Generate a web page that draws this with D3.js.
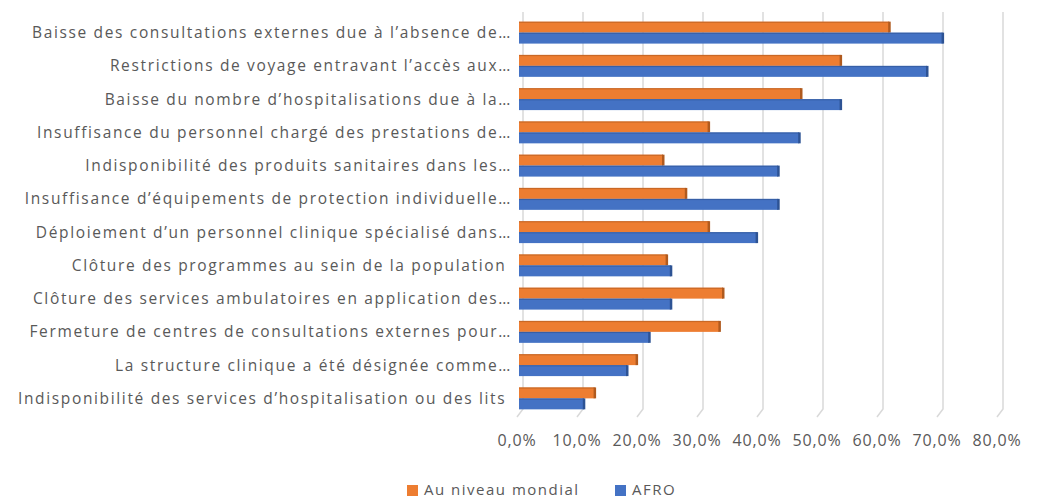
<!DOCTYPE html>
<html>
<head>
<meta charset="utf-8">
<script src="https://cdn.jsdelivr.net/npm/d3@7"></script>
<style>
  body { margin: 0; background: #fff; }
  text { font-family: "Open Sans", sans-serif; fill: #595959; }
</style>
</head>
<body>
<div class="chart"></div>
<script>
var width = 1045;
var height = 499;

// categories, top to bottom
var categories = [
	"Baisse des consultations externes due à l’absence de…",
	"Restrictions de voyage entravant l’accès aux…",
	"Baisse du nombre d’hospitalisations due à la…",
	"Insuffisance du personnel chargé des prestations de…",
	"Indisponibilité des produits sanitaires dans les…",
	"Insuffisance d’équipements de protection individuelle…",
	"Déploiement d’un personnel clinique spécialisé dans…",
	"Clôture des programmes au sein de la population\u00a0",
	"Clôture des services ambulatoires en application des…",
	"Fermeture de centres de consultations externes pour…",
	"La structure clinique a été désignée comme…",
	"Indisponibilité des services d’hospitalisation ou des lits\u00a0"
];

// values in %
var mondial = [61.7, 53.6, 47, 31.6, 24, 27.8, 31.6, 24.6, 34, 33.4, 19.6, 12.6];
var afro = [70.6, 68, 53.6, 46.7, 43.2, 43.2, 39.6, 25.3, 25.3, 21.7, 18, 10.8];

var seriesNames = ["Au niveau mondial", "AFRO"];
var ticks = [0, 10, 20, 30, 40, 50, 60, 70, 80];

var colors = ["#ED7D31", "#4472C4"];
var darker = ["#B05A1E", "#2D5394"];

var rows = categories.map(function(c, i) {
	return { cat: c, values: [mondial[i], afro[i]] };
});

var svg = d3.select(".chart")
	.append("svg")
	.attr("width", width)
	.attr("height", height);

var x = d3.scaleLinear().domain([0, 80]).range([517, 997]);
var y = d3.scaleBand().domain(categories).range([16, 415])
	.paddingInner(0.34).paddingOuter(0.17);
var ySub = d3.scaleBand().domain([0, 1]).range([0, y.bandwidth()]);

var depth = 6;

// gridlines with a little 3D floor slant
svg.append("g").selectAll("path")
	.data(ticks)
	.enter()
	.append("path")
	.attr("d", function(d) {
		return "M" + (x(d) + depth) + ",12V409L" + x(d) + ",417";
	})
	.attr("fill", "none")
	.attr("stroke", "#d9d9d9")
	.attr("stroke-width", 1.5);

// tick labels
svg.append("g").selectAll("text")
	.data(ticks)
	.enter()
	.append("text")
	.attr("x", function(d) { return x(d); })
	.attr("y", 446)
	.attr("text-anchor", "middle")
	.style("font-size", "16px")
	.style("letter-spacing", "0.8px")
	.text(function(d) { return d.toFixed(1).replace(".", ",") + "%"; });

// category labels
svg.append("g").selectAll("text")
	.data(categories)
	.enter()
	.append("text")
	.attr("x", 512)
	.attr("y", function(d) { return y(d) + y.bandwidth() / 2; })
	.attr("dy", "0.35em")
	.attr("text-anchor", "end")
	.style("font-size", "15.5px")
	.style("letter-spacing", "1.65px")
	.text(function(d) { return d; });

// bars
var groups = svg.append("g").selectAll("g")
	.data(rows)
	.enter()
	.append("g")
	.attr("transform", function(d) { return "translate(0," + y(d.cat) + ")"; });

var bars = groups.selectAll("g")
	.data(function(d) { return d.values.map(function(v, k) { return { k: k, v: v }; }); })
	.enter()
	.append("g");

bars.append("rect")
	.attr("x", x(0) + 2)
	.attr("y", function(d) { return ySub(d.k); })
	.attr("width", function(d) { return x(d.v) - x(0); })
	.attr("height", ySub.bandwidth())
	.attr("fill", function(d) { return colors[d.k]; });

// right side face
bars.append("rect")
	.attr("x", function(d) { return x(d.v) + 1; })
	.attr("y", function(d) { return ySub(d.k); })
	.attr("width", 2.5)
	.attr("height", ySub.bandwidth())
	.attr("fill", function(d) { return darker[d.k]; });

// top edge
bars.append("rect")
	.attr("x", x(0) + 2)
	.attr("y", function(d) { return ySub(d.k); })
	.attr("width", function(d) { return x(d.v) - x(0); })
	.attr("height", 1.2)
	.attr("fill", function(d) { return darker[d.k]; })
	.attr("opacity", 0.6);

// legend
var legend = svg.append("g").selectAll("g")
	.data(seriesNames)
	.enter()
	.append("g")
	.attr("transform", function(d, i) { return "translate(" + [407, 615][i] + ",485)"; });

legend.append("rect")
	.attr("width", 11)
	.attr("height", 11)
	.attr("fill", function(d, i) { return colors[i]; });

legend.append("text")
	.attr("x", 17)
	.attr("y", 5)
	.attr("dy", "0.35em")
	.style("font-size", "15px")
	.style("letter-spacing", "1.5px")
	.text(function(d) { return d; });
</script>
</body>
</html>
